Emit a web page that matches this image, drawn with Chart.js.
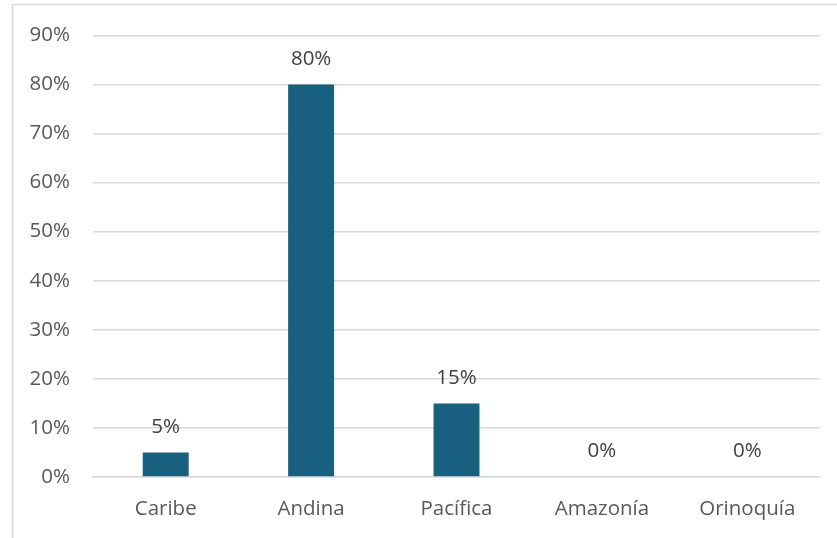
<!DOCTYPE html>
<html>
<head>
<meta charset="utf-8">
<script src="https://cdn.jsdelivr.net/npm/chart.js@4/dist/chart.umd.min.js"></script>
<style>
html,body{margin:0;padding:0;background:#fff;}
#wrap{width:837px;height:538px;position:relative;}
</style>
</head>
<body>
<div id="wrap"><canvas id="c" width="837" height="538"></canvas></div>
<script>
const categories = ["Caribe", "Andina", "Pacífica", "Amazonía", "Orinoquía"];
const values = [5, 80, 15, 0, 0];
const yTicks = [0, 10, 20, 30, 40, 50, 60, 70, 80, 90];

const FONT = "'Open Sans', 'Noto Sans', sans-serif";
const TEXT = '#595959';
const FS = 20.5;

const frame = {
  id: 'frame',
  beforeDraw(chart) {
    const ctx = chart.ctx;
    ctx.save();
    ctx.fillStyle = '#fff';
    ctx.fillRect(0, 0, chart.width, chart.height);
    ctx.strokeStyle = '#d9d9d9';
    ctx.lineWidth = 1.5;
    ctx.strokeRect(12.5, 4.5, 900, 600);
    ctx.restore();
  }
};

const labels = {
  id: 'barLabels',
  afterDatasetsDraw(chart) {
    const ctx = chart.ctx;
    const meta = chart.getDatasetMeta(0);
    ctx.save();
    ctx.fillStyle = '#404040';
    ctx.font = FS + 'px ' + FONT;
    ctx.textAlign = 'center';
    ctx.textBaseline = 'middle';
    meta.data.forEach((bar, i) => {
      ctx.fillText(values[i] + '%', bar.x, bar.y - 25.5);
    });
    ctx.restore();
  }
};

new Chart(document.getElementById('c'), {
  type: 'bar',
  data: {
    labels: categories,
    datasets: [{
      data: values,
      backgroundColor: '#185f80',
      barPercentage: 0.316,
      categoryPercentage: 1.0
    }]
  },
  options: {
    responsive: false,
    animation: false,
    devicePixelRatio: 1,
    layout: { padding: { top: 34, right: 17, left: 0, bottom: 0 } },
    plugins: { legend: { display: false }, tooltip: { enabled: false } },
    scales: {
      x: {
        grid: { display: false, drawTicks: false },
        border: { display: true, color: '#d9d9d9', width: 1.5 },
        ticks: { color: TEXT, font: { family: FONT, size: FS }, padding: 20 },
        afterFit(s) { s.height = 61; }
      },
      y: {
        min: 0, max: 90,
        afterBuildTicks(s) { s.ticks = yTicks.map(v => ({ value: v })); },
        grid: { color: '#d9d9d9', lineWidth: 1.5, drawTicks: false },
        border: { display: false },
        ticks: { color: TEXT, font: { family: FONT, size: FS }, padding: 23, callback: v => v + '%' },
        afterFit(s) { s.width = 93; }
      }
    }
  },
  plugins: [frame, labels]
});
</script>
</body>
</html>
